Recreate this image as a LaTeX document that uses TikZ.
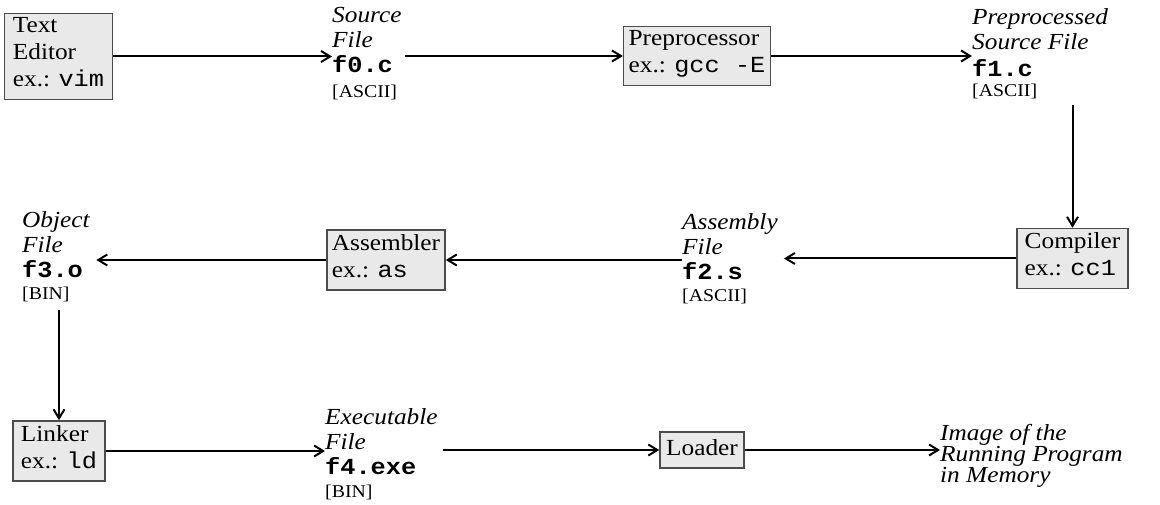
\documentclass[tikz,border=0pt]{standalone}
\usepackage{fontspec}
\setmainfont[FakeStretch=1.1]{Liberation Serif}
\setmonofont[FakeStretch=1.1]{Liberation Mono}
\usepackage{tikz}
\usetikzlibrary{arrows.meta,positioning,calc}
\newcommand{\archivo}[1]{{\ttfamily\bfseries #1}}
\newcommand{\formato}[1]{{\fontsize{18}{20}\selectfont[#1]}}
\tikzset{
  etapa/.style={rectangle, draw=gray!60!black, fill=gray!17, line width=1.5pt,
                align=left, inner xsep=5pt, inner ysep=4.5pt,
                font=\fontsize{23}{27}\selectfont,
                execute at begin node=\strut, execute at end node=\strut},
  fichero/.style={align=left, inner sep=0pt, anchor=north west,
                  font=\fontsize{23}{25}\selectfont},
  flecha/.style={-{Straight Barb[length=9pt,width=11pt]}, line width=2pt}
}
\begin{document}
\begin{tikzpicture}[x=1pt, y=-1pt]
  \useasboundingbox (0,0) rectangle (1160,505);
  % fila 1
  \node[etapa, minimum width=108pt] (ed) at (58.5,56.5) {Text\\Editor\\ex.: \texttt{vim}};
  \node[fichero] (f0) at (332,7) {\textit{Source}\\\textit{File}\\\archivo{f0.c}\\\formato{ASCII}};
  \node[etapa, minimum width=142pt] (pre) at (697,56) {Preprocessor\\ex.: \texttt{gcc -E}};
  \node[fichero] (f1) at (972,8) {\textit{Preprocessed}\\\textit{Source File}\\[2pt]\archivo{f1.c}\\[-5pt]\formato{ASCII}};
  % fila 2
  \node[etapa, minimum width=111pt] (cc) at (1072.5,258.5) {Compiler\\ex.: \texttt{cc1}};
  \node[fichero] (f2) at (682,213) {\textit{Assembly}\\\textit{File}\\\archivo{f2.s}\\[-3pt]\formato{ASCII}};
  \node[etapa, minimum width=118pt] (as) at (386,260) {Assembler\\ex.: \texttt{as}};
  \node[fichero] (f3) at (22,211) {\textit{Object}\\\textit{File}\\\archivo{f3.o}\\[-3pt]\formato{BIN}};
  % fila 3
  \node[etapa, minimum width=92pt] (ld) at (59,451) {Linker\\ex.: \texttt{ld}};
  \node[fichero] (f4) at (325,408) {\textit{Executable}\\\textit{File}\\\archivo{f4.exe}\\[-2pt]\formato{BIN}};
  \node[etapa, minimum width=84pt] (load) at (702,450) {Loader};
  \node[fichero, font=\fontsize{23}{20}\selectfont] (img) at (940,424) {\textit{Image of the}\\\textit{Running Program}\\\textit{in Memory}};
  % flechas
  \draw[flecha] (ed.east) -- (ed.east -| f0.west);
  \draw[flecha] ([xshift=3pt]f0.east |- pre.west) -- (pre.west);
  \draw[flecha] (pre.east) -- (pre.east -| f1.west);
  \draw[flecha] (cc |- f1.south) ++(0,6) -- (cc.north);
  \draw[flecha] (cc.west) -- ([xshift=6pt]f2.east |- cc.west);
  \draw[flecha] (f2.west |- as.east) -- (as.east);
  \draw[flecha] (as.west) -- ([xshift=6pt]f3.east |- as.west);
  \draw[flecha] (ld |- f3.south) ++(0,8) -- (ld.north);
  \draw[flecha] (ld.east) -- (ld.east -| f4.west);
  \draw[flecha] ([xshift=5pt]f4.east |- load.west) -- (load.west);
  \draw[flecha] (load.east) -- (load.east -| img.west);
\end{tikzpicture}
\end{document}
